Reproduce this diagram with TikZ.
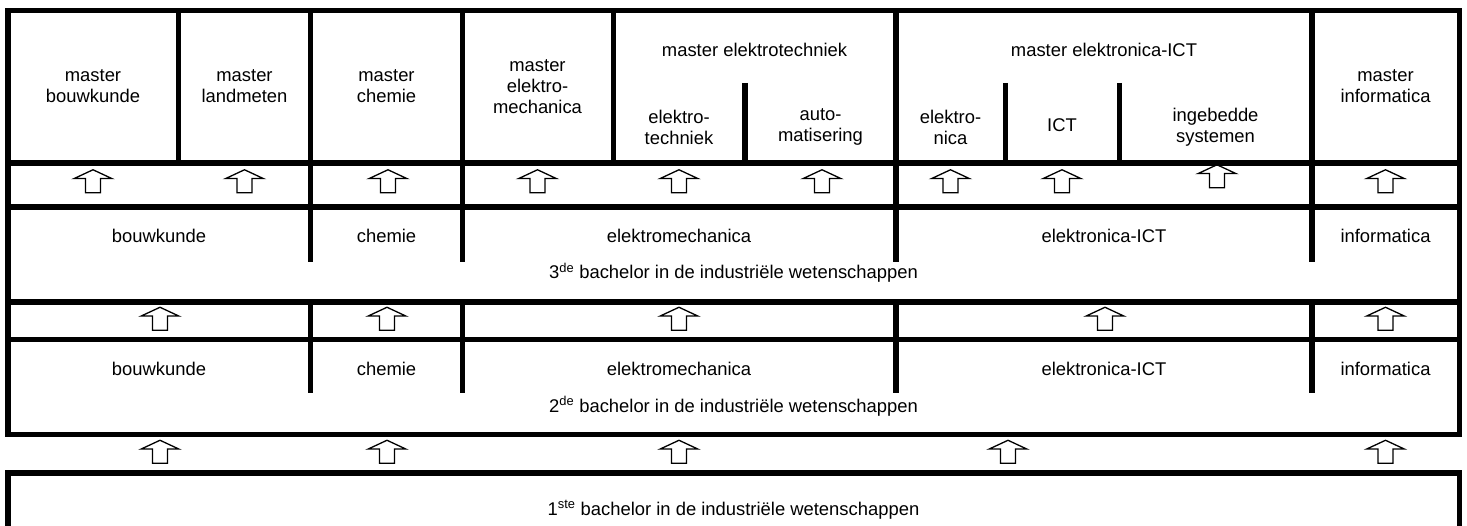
\documentclass[tikz,border=0pt]{standalone}
\usepackage{fontspec}
\setmainfont{Liberation Sans}
\usetikzlibrary{shapes.arrows}
\tikzstyle{cell} = [align=center, inner sep=0pt, font=\fontsize{18.4}{21}\selectfont]
\tikzstyle{label} = [cell, anchor=base]
\tikzstyle{uparrow} = [single arrow, draw=black, line width=1.3pt, rotate=90, minimum height=23pt, minimum width=37pt, single arrow head extend=11.5pt, single arrow tip angle=130, inner xsep=0pt, inner ysep=6.8pt]
\tikzstyle{frame} = [line width=5.5pt]

\begin{document}
\begin{tikzpicture}[x=1pt, y=-1pt]
    \useasboundingbox (0,0) rectangle (1467,526);

    % frames
    \draw [frame] (8,10.5) rectangle (1459.5,434.5);
    \draw [frame] (8,163) -- (1459.5,163);
    \draw [frame] (8,207) -- (1459.5,207);
    \draw [frame] (8,302) -- (1459.5,302);
    \draw [frame] (8,339.5) -- (1459.5,339.5);
    \draw [frame] (8,529) -- (8,473) -- (1459.5,473) -- (1459.5,529);

    % column lines
    \draw [frame] (178.5,10.5) -- (178.5,163);
    \draw [frame] (613.5,10.5) -- (613.5,163);
    \draw [frame] (745,83) -- (745,163);
    \draw [frame] (1005.5,83) -- (1005.5,163);
    \draw [frame] (1119.5,83) -- (1119.5,163);
    \draw [frame] (310.5,10.5) -- (310.5,262);
    \draw [frame] (462.5,10.5) -- (462.5,262);
    \draw [frame] (896,10.5) -- (896,262);
    \draw [frame] (1312,10.5) -- (1312,262);
    \draw [frame] (310.5,302) -- (310.5,393);
    \draw [frame] (462.5,302) -- (462.5,393);
    \draw [frame] (896,302) -- (896,393);
    \draw [frame] (1312,302) -- (1312,393);

    % masters
    \node (mbouw) [cell] at (93,86.5) {master\\bouwkunde};
    \node (mland) [cell] at (244.5,86.5) {master\\landmeten};
    \node (mchem) [cell] at (386.5,86.5) {master\\chemie};
    \node (mem) [cell] at (537.5,86.5) {master\\elektro-\\mechanica};
    \node (met) [label] at (754.5,57) {master elektrotechniek};
    \node (metel) [cell] at (679,127) {elektro-\\techniek};
    \node (metaut) [cell] at (820.5,127) {auto-\\matisering};
    \node (mict) [label] at (1104,57) {master elektronica-ICT};
    \node (mictel) [cell] at (950.5,127) {elektro-\\nica};
    \node (mictict) [label] at (1062,131.5) {ICT};
    \node (mictemb) [cell] at (1215.5,127) {ingebedde\\systemen};
    \node (minf) [cell] at (1385.5,86.5) {master\\informatica};

    % 3de bachelor
    \node (bbouw3) [label] at (159,243) {bouwkunde};
    \node (bchem3) [label] at (386.5,243) {chemie};
    \node (bem3) [label] at (679,243) {elektromechanica};
    \node (bict3) [label] at (1104,243) {elektronica-ICT};
    \node (binf3) [label] at (1385.5,243) {informatica};
    \node (bach3) [label] at (733.5,279) {3\textsuperscript{de} bachelor in de industriële wetenschappen};

    % 2de bachelor
    \node (bbouw2) [label] at (159,376) {bouwkunde};
    \node (bchem2) [label] at (386.5,376) {chemie};
    \node (bem2) [label] at (679,376) {elektromechanica};
    \node (bict2) [label] at (1104,376) {elektronica-ICT};
    \node (binf2) [label] at (1385.5,376) {informatica};
    \node (bach2) [label] at (733.5,412) {2\textsuperscript{de} bachelor in de industriële wetenschappen};

    % 1ste bachelor
    \node (bach1) [label] at (733.5,515) {1\textsuperscript{ste} bachelor in de industriële wetenschappen};

    % arrows 3de -> master
    \node (up1) [uparrow] at (93,183) {};
    \node (up2) [uparrow] at (244.5,183) {};
    \node (up3) [uparrow] at (388,183) {};
    \node (up4) [uparrow] at (537.5,183) {};
    \node (up5) [uparrow] at (679,183) {};
    \node (up6) [uparrow] at (822,183) {};
    \node (up7) [uparrow] at (950.5,183) {};
    \node (up8) [uparrow] at (1062,183) {};
    \node (up9) [uparrow] at (1217,178) {};
    \node (up10) [uparrow] at (1385.5,183) {};

    % arrows 2de -> 3de
    \node (mid1) [uparrow] at (160,320.5) {};
    \node (mid2) [uparrow] at (387,320.5) {};
    \node (mid3) [uparrow] at (679,320.5) {};
    \node (mid4) [uparrow] at (1105,320.5) {};
    \node (mid5) [uparrow] at (1385.5,320.5) {};

    % arrows 1ste -> 2de
    \node (low1) [uparrow] at (160,453.5) {};
    \node (low2) [uparrow] at (387,453.5) {};
    \node (low3) [uparrow] at (679,453.5) {};
    \node (low4) [uparrow] at (1008,453.5) {};
    \node (low5) [uparrow] at (1385.5,453.5) {};
\end{tikzpicture}
\end{document}
